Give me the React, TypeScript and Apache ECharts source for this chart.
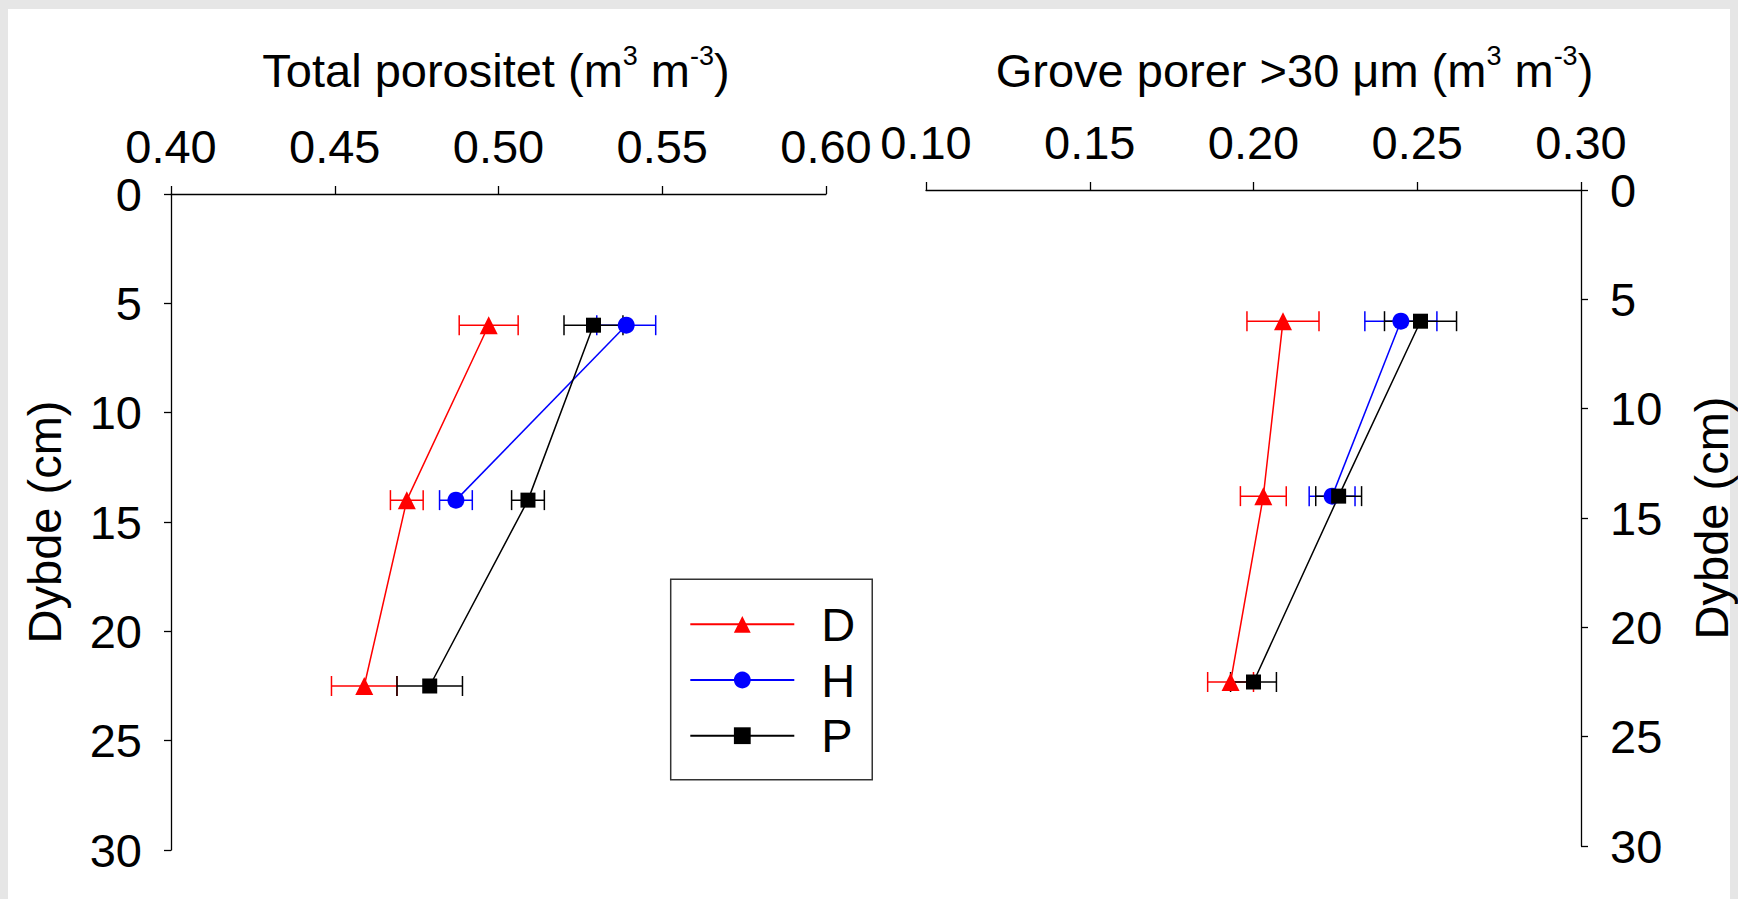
import React, { useEffect, useRef } from "react";
import * as echarts from "echarts";

// ---- data ----
const depths = [6, 14, 22.5];
const seriesNames = ["D", "H", "P"];
const seriesColors = ["#ff0000", "#0000ff", "#000000"];
const seriesSymbols = ["triangle", "circle", "rect"];
const symbolSizes = [18, 17, 15];

// Total porositet (m3 m-3)
const totalD = [0.497, 0.472, 0.459];
const totalDErr = [0.009, 0.005, 0.01];
const totalH = [0.539, 0.487, null];
const totalHErr = [0.009, 0.005, null];
const totalP = [0.529, 0.509, 0.479];
const totalPErr = [0.009, 0.005, 0.01];

// Grove porer >30 um (m3 m-3)
const coarseD = [0.209, 0.203, 0.193];
const coarseDErr = [0.011, 0.007, 0.007];
const coarseH = [0.245, 0.224, null];
const coarseHErr = [0.011, 0.007, null];
const coarseP = [0.251, 0.226, 0.2];
const coarsePErr = [0.011, 0.007, 0.007];

const depthTicks = { min: 0, max: 30, interval: 5 };
const totalTicks = { min: 0.4, max: 0.6, interval: 0.05 };
const coarseTicks = { min: 0.1, max: 0.3, interval: 0.05 };

const FONT = "'Liberation Sans', Arial, Helvetica, sans-serif";
const FS = 47;

function pts(vals: (number | null)[], errs: (number | null)[]) {
  const out: number[][] = [];
  vals.forEach((v, i) => {
    if (v != null) out.push([v, depths[i], errs[i] as number]);
  });
  return out;
}

export default function App() {
  const ref = useRef<HTMLDivElement>(null);

  useEffect(() => {
    if (!ref.current) return;
    const chart = echarts.init(ref.current, undefined, { renderer: "svg" });

    const panels = [
      [totalD, totalDErr, totalH, totalHErr, totalP, totalPErr],
      [coarseD, coarseDErr, coarseH, coarseHErr, coarseP, coarsePErr],
    ];

    const lineSeries: any[] = [];
    const errSeries: any[] = [];
    panels.forEach((p, pi) => {
      for (let s = 0; s < 3; s++) {
        const data = pts(p[s * 2] as any, p[s * 2 + 1] as any);
        lineSeries.push({
          type: "line",
          name: seriesNames[s],
          xAxisIndex: pi,
          yAxisIndex: pi,
          data: data.map((d) => [d[0], d[1]]),
          symbol: seriesSymbols[s],
          symbolSize: symbolSizes[s],
          showAllSymbol: true,
          itemStyle: { color: seriesColors[s] },
          lineStyle: { color: seriesColors[s], width: 1.5 },
          z: 3,
          silent: true,
        });
        const color = seriesColors[s];
        errSeries.push({
          type: "custom",
          name: seriesNames[s] + " err",
          xAxisIndex: pi,
          yAxisIndex: pi,
          data,
          z: 2,
          silent: true,
          renderItem: (params: any, api: any) => {
            const x = api.value(0);
            const y = api.value(1);
            const e = api.value(2);
            const a = api.coord([x - e, y]);
            const b = api.coord([x + e, y]);
            const h = 10;
            const st = { stroke: color, lineWidth: 1.5 };
            return {
              type: "group",
              children: [
                { type: "line", shape: { x1: a[0], y1: a[1], x2: b[0], y2: b[1] }, style: st },
                { type: "line", shape: { x1: a[0], y1: a[1] - h, x2: a[0], y2: a[1] + h }, style: st },
                { type: "line", shape: { x1: b[0], y1: b[1] - h, x2: b[0], y2: b[1] + h }, style: st },
              ],
            };
          },
        });
      }
    });

    const axisLine = { show: true, lineStyle: { color: "#000", width: 1.3 } };
    const nameRich = {
      n: { fontSize: FS, lineHeight: 56, fontFamily: FONT, color: "#000" },
      s: { fontSize: 27, lineHeight: 27, verticalAlign: "top", fontFamily: FONT, color: "#000" },
    };

    const xAxisCommon = (t: any, name: string, gap: number, pad: number[]) => ({
      type: "value",
      position: "top",
      min: t.min,
      max: t.max,
      interval: t.interval,
      name,
      nameLocation: "middle",
      nameGap: gap,
      nameTextStyle: { rich: nameRich, padding: pad },
      axisLine,
      axisTick: { show: true, length: 8, lineStyle: { color: "#000", width: 1.3 } },
      axisLabel: {
        fontSize: FS,
        fontFamily: FONT,
        color: "#000",
        margin: 24,
        formatter: (v: number) => v.toFixed(2),
      },
      splitLine: { show: false },
    });

    const yAxisCommon = (pos: string, gap: number) => ({
      type: "value",
      position: pos,
      inverse: true,
      min: depthTicks.min,
      max: depthTicks.max,
      interval: depthTicks.interval,
      name: "Dybde (cm)",
      nameLocation: "middle",
      nameGap: gap,
      nameRotate: 90,
      nameTextStyle: { fontSize: FS, fontFamily: FONT, color: "#000" },
      axisLine,
      axisTick: { show: true, length: 7, lineStyle: { color: "#000", width: 1.3 } },
      axisLabel: { fontSize: FS, fontFamily: FONT, color: "#000", margin: 29 },
      splitLine: { show: false },
    });

    chart.setOption({
      animation: false,
      grid: [
        { left: 163, top: 185, width: 655, height: 656 },
        { left: 918, top: 181, width: 655, height: 656 },
      ],
      xAxis: [
        { ...xAxisCommon(totalTicks, "{n|Total porositet (m}{s|3}{n| m}{s|-3}{n|)}", 96, [0, 5, 0, 0]), gridIndex: 0 },
        { ...xAxisCommon(coarseTicks, "{n|Grove porer >30 \u03bcm (m}{s|3}{n| m}{s|-3}{n|)}", 92, [0, 0, 0, 82]), gridIndex: 1 },
      ],
      yAxis: [
        { ...yAxisCommon("left", 103), gridIndex: 0 },
        { ...yAxisCommon("right", 107), gridIndex: 1 },
      ],
      legend: {
        data: seriesNames,
        orient: "vertical",
        left: 662.7,
        top: 570.3,
        itemWidth: 104,
        itemHeight: 21,
        itemGap: 8.7,
        padding: [21.5, 17, 20.5, 18.6],
        borderColor: "#333",
        borderWidth: 1.5,
        selectedMode: false,
        textStyle: { fontSize: FS, fontFamily: FONT, color: "#000", padding: [0, 0, 0, 22] },
      },
      series: [...errSeries, ...lineSeries],
    });

    return () => chart.dispose();
  }, []);

  return (
    <div style={{ position: "fixed", left: 0, top: 0, width: 1738, height: 899, background: "#e6e6e6" }}>
      <div style={{ position: "absolute", left: 8, top: 9, width: 1722, height: 890, background: "#fff" }} />
      <div ref={ref} style={{ position: "absolute", left: 8, top: 9, width: 1730, height: 890 }} />
    </div>
  );
}
